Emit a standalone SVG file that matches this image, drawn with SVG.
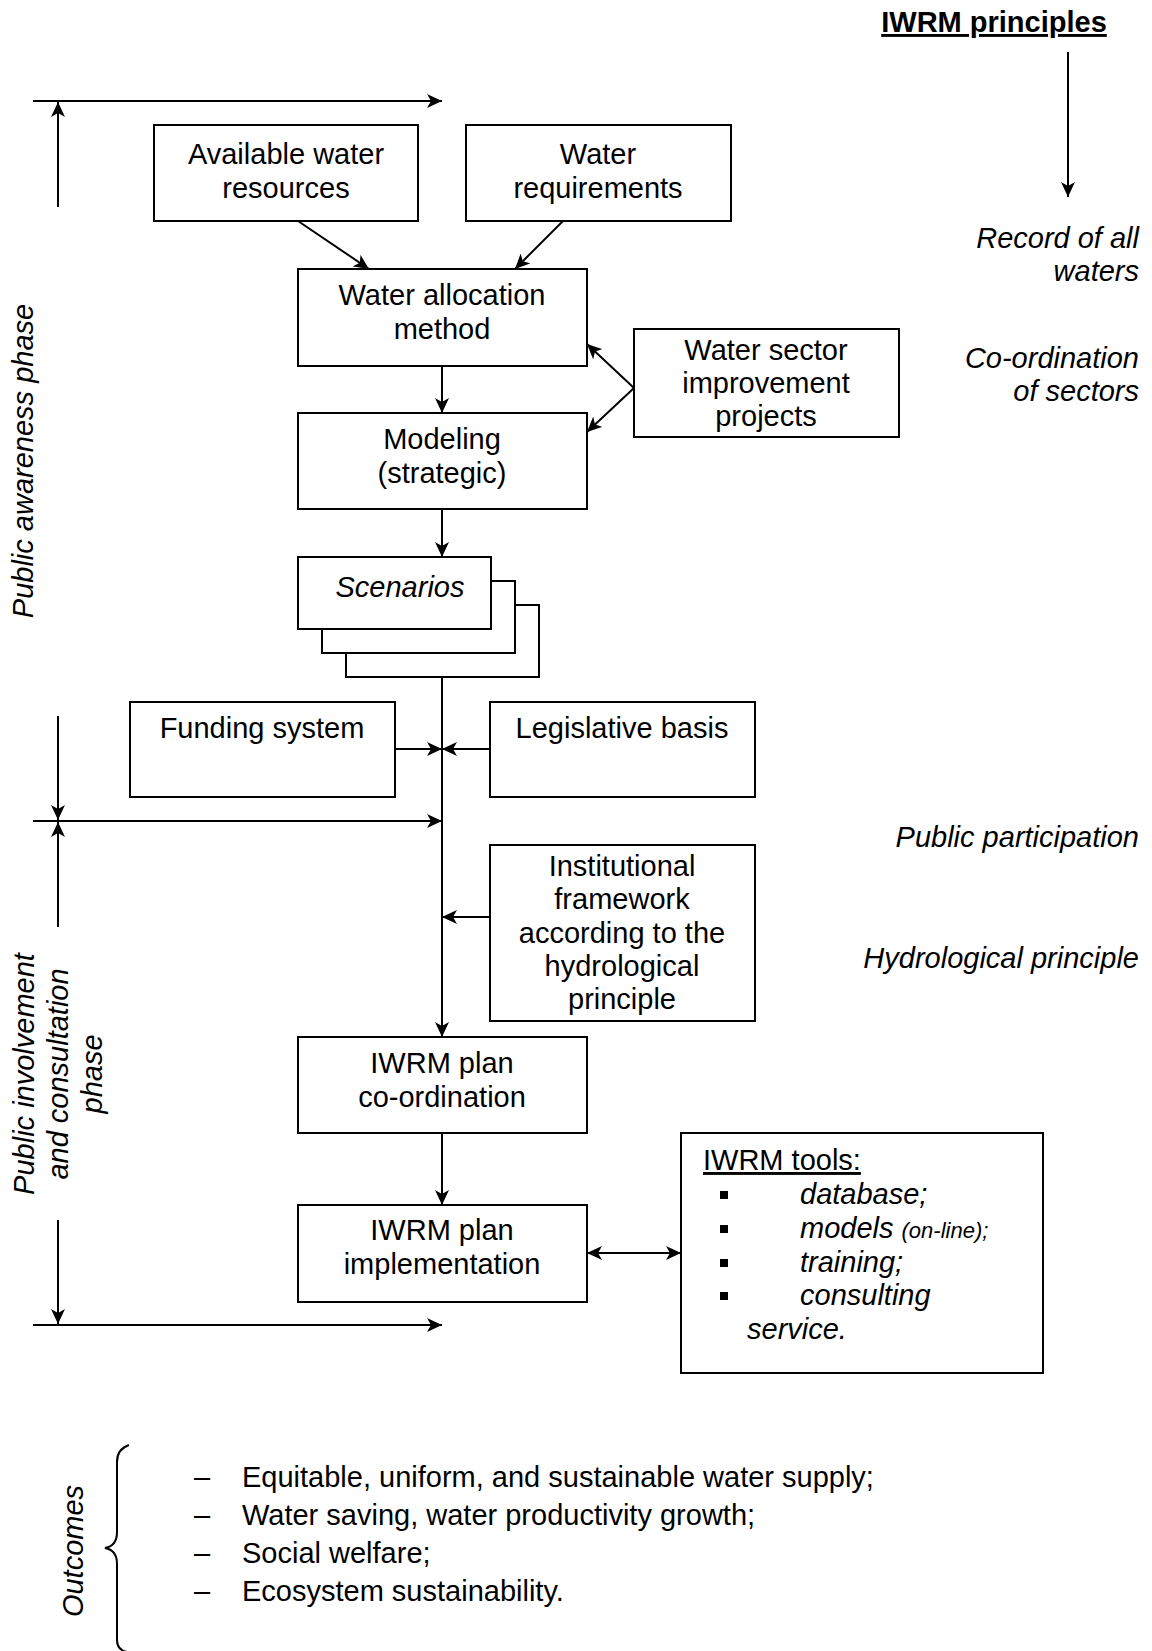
<svg xmlns="http://www.w3.org/2000/svg" width="1152" height="1651" viewBox="0 0 1152 1651">
<style>
text{font-family:"Liberation Sans",Arial,sans-serif;font-size:29px;fill:#000}
.c{text-anchor:middle}
.e{text-anchor:end}
.i{font-style:italic}
.box{fill:#fff;stroke:#000;stroke-width:2}
.ln{fill:none;stroke:#000;stroke-width:2}
.a{marker-end:url(#ah)}
</style>
<defs>
<marker id="ah" markerWidth="16" markerHeight="14" refX="15" refY="7" orient="auto-start-reverse" markerUnits="userSpaceOnUse"><path d="M0,0 L15,7 L0,14 L4,7 Z" fill="#000"/></marker>
</defs>
<rect width="1152" height="1651" fill="#fff"/>

<g id="connectors">
<line class="ln a" x1="33" y1="101" x2="442" y2="101"/>
<line class="ln a" x1="58" y1="207" x2="58" y2="102"/>
<line class="ln a" x1="58" y1="716" x2="58" y2="820"/>
<line class="ln a" x1="33" y1="821" x2="442" y2="821"/>
<line class="ln a" x1="58" y1="927" x2="58" y2="822"/>
<line class="ln a" x1="58" y1="1220" x2="58" y2="1324"/>
<line class="ln a" x1="33" y1="1325" x2="442" y2="1325"/>
<line class="ln a" x1="298" y1="221" x2="369" y2="269"/>
<line class="ln a" x1="563" y1="221" x2="515" y2="269"/>
<line class="ln a" x1="442" y1="366" x2="442" y2="413"/>
<line class="ln a" x1="634" y1="388" x2="587" y2="344"/>
<line class="ln a" x1="634" y1="388" x2="587" y2="432"/>
<line class="ln a" x1="442" y1="509" x2="442" y2="557"/>
<line class="ln a" x1="442" y1="677" x2="442" y2="1037"/>
<line class="ln a" x1="395" y1="749" x2="442" y2="749"/>
<line class="ln a" x1="490" y1="749" x2="442" y2="749"/>
<line class="ln a" x1="490" y1="917" x2="442" y2="917"/>
<line class="ln a" x1="442" y1="1133" x2="442" y2="1205"/>
<line class="ln a" x1="587" y1="1253" x2="681" y2="1253" style="marker-start:url(#ah)"/>
<line class="ln a" x1="1068" y1="52" x2="1068" y2="197"/>
</g>

<g id="iwrm-principles">
<text class="c" x="994" y="32" font-weight="bold" text-decoration="underline">IWRM principles</text>
</g>
<g id="principles-list">
<text class="e i" x="1139" y="248">Record of all</text>
<text class="e i" x="1139" y="281">waters</text>
<text class="e i" x="1139" y="368">Co-ordination</text>
<text class="e i" x="1139" y="401">of sectors</text>
<text class="e i" x="1139" y="847">Public participation</text>
<text class="e i" x="1139" y="968">Hydrological principle</text>
</g>

<g id="phase-awareness">
<text class="c i" transform="translate(33,461) rotate(-90)">Public awareness phase</text>
</g>
<g id="phase-involvement">
<text class="c i" transform="translate(34,1074) rotate(-90)">Public involvement</text>
<text class="c i" transform="translate(68,1074) rotate(-90)">and consultation</text>
<text class="c i" transform="translate(102,1074) rotate(-90)">phase</text>
</g>

<g id="available-water">
<rect class="box" x="154" y="125" width="264" height="96"/>
<text class="c" x="286" y="164">Available water</text>
<text class="c" x="286" y="198">resources</text>
</g>
<g id="water-requirements">
<rect class="box" x="466" y="125" width="265" height="96"/>
<text class="c" x="598" y="164">Water</text>
<text class="c" x="598" y="198">requirements</text>
</g>
<g id="water-allocation">
<rect class="box" x="298" y="269" width="289" height="97"/>
<text class="c" x="442" y="305">Water allocation</text>
<text class="c" x="442" y="339">method</text>
</g>
<g id="water-sector">
<rect class="box" x="634" y="329" width="265" height="108"/>
<text class="c" x="766" y="360">Water sector</text>
<text class="c" x="766" y="393">improvement</text>
<text class="c" x="766" y="426">projects</text>
</g>
<g id="modeling">
<rect class="box" x="298" y="413" width="289" height="96"/>
<text class="c" x="442" y="449">Modeling</text>
<text class="c" x="442" y="483">(strategic)</text>
</g>
<g id="scenarios">
<rect class="box" x="346" y="605" width="193" height="72"/>
<rect class="box" x="322" y="581" width="193" height="72"/>
<rect class="box" x="298" y="557" width="193" height="72"/>
<text class="c i" x="400" y="597">Scenarios</text>
</g>
<g id="funding">
<rect class="box" x="130" y="702" width="265" height="95"/>
<text class="c" x="262" y="738">Funding system</text>
</g>
<g id="legislative">
<rect class="box" x="490" y="702" width="265" height="95"/>
<text class="c" x="622" y="738">Legislative basis</text>
</g>
<g id="institutional">
<rect class="box" x="490" y="845" width="265" height="176"/>
<text class="c" x="622" y="876">Institutional</text>
<text class="c" x="622" y="909">framework</text>
<text class="c" x="622" y="943">according to the</text>
<text class="c" x="622" y="976">hydrological</text>
<text class="c" x="622" y="1009">principle</text>
</g>
<g id="plan-coordination">
<rect class="box" x="298" y="1037" width="289" height="96"/>
<text class="c" x="442" y="1073">IWRM plan</text>
<text class="c" x="442" y="1107">co-ordination</text>
</g>
<g id="plan-implementation">
<rect class="box" x="298" y="1205" width="289" height="97"/>
<text class="c" x="442" y="1240">IWRM plan</text>
<text class="c" x="442" y="1274">implementation</text>
</g>
<g id="iwrm-tools">
<rect class="box" x="681" y="1133" width="362" height="240"/>
<text x="703" y="1170" text-decoration="underline">IWRM tools:</text>
<rect x="720" y="1191" width="8" height="8"/>
<rect x="720" y="1225" width="8" height="8"/>
<rect x="720" y="1259" width="8" height="8"/>
<rect x="720" y="1292" width="8" height="8"/>
<text class="i" x="800" y="1204">database;</text>
<text class="i" x="800" y="1238">models <tspan font-size="22">(on-line);</tspan></text>
<text class="i" x="800" y="1272">training;</text>
<text class="i" x="800" y="1305">consulting</text>
<text class="i" x="747" y="1339">service.</text>
</g>

<g id="outcomes">
<path class="ln" d="M129,1445 Q117,1449 117,1462 L117,1532 Q117,1546 105,1548 Q117,1550 117,1564 L117,1640 Q117,1650 127,1652"/>
<text class="c i" transform="translate(83,1551) rotate(-90)">Outcomes</text>
<text x="194" y="1487">–</text>
<text x="194" y="1525">–</text>
<text x="194" y="1563">–</text>
<text x="194" y="1601">–</text>
<text x="242" y="1487">Equitable, uniform, and sustainable water supply;</text>
<text x="242" y="1525">Water saving, water productivity growth;</text>
<text x="242" y="1563">Social welfare;</text>
<text x="242" y="1601">Ecosystem sustainability.</text>
</g>
</svg>
